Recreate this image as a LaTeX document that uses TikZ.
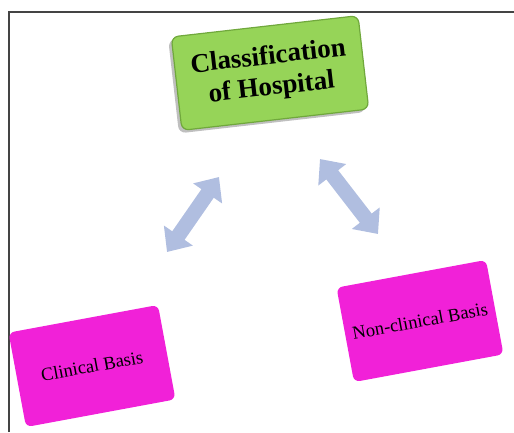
\documentclass[tikz,border=0pt]{standalone}
\usepackage{fontspec}
\setmainfont{Liberation Serif}
\usetikzlibrary{arrows.meta}
\definecolor{boxgreen}{RGB}{150,212,88}
\definecolor{edgegreen}{RGB}{112,168,60}
\definecolor{boxpink}{RGB}{241,33,216}
\definecolor{arrowblue}{RGB}{176,190,224}
\definecolor{framegray}{RGB}{68,68,68}
\begin{document}
\begin{tikzpicture}[
		x=1pt, y=-1pt,
		greenbox/.style={
				draw=edgegreen,
				line width=1.2pt,
				fill=boxgreen,
				rounded corners=7pt,
				minimum width=188pt,
				minimum height=94pt,
				align=center,
				font=\fontsize{27}{31}\selectfont\bfseries,
				rotate=6.5
			},
		shadowbox/.style={
				fill=black!25,
				rounded corners=7pt,
				minimum width=188pt,
				minimum height=94pt,
				rotate=6.5
			},
		pinkbox/.style={
				fill=boxpink,
				rounded corners=6pt,
				minimum width=152pt,
				minimum height=96pt,
				font=\fontsize{18.5}{18}\selectfont,
				rotate=10.5
			},
		twoway/.style={
				draw=arrowblue,
				line width=15pt,
				{Triangle[width=34pt,length=20pt]}-{Triangle[width=34pt,length=20pt]}
			},
	]
	\useasboundingbox (0,0) rectangle (514,432);
	\draw [framegray, line width=2pt] (8.5,432) -- (8.5,11.5) -- (514,11.5);
	\node [shadowbox] (shadow) at (267,76) {};
	\node [greenbox] (top) at (270,73) {Classification\\of Hospital};
	\node [pinkbox] (clinical) at (92,366) {Clinical Basis};
	\node [pinkbox] (nonclinical) at (420,321) {Non-clinical Basis};
	\coordinate (l1) at (167,252);
	\coordinate (l2) at (219,177);
	\coordinate (r1) at (320,159);
	\coordinate (r2) at (378,234);
	\draw [twoway] (l1) -- (l2);
	\draw [twoway] (r1) -- (r2);
\end{tikzpicture}
\end{document}
